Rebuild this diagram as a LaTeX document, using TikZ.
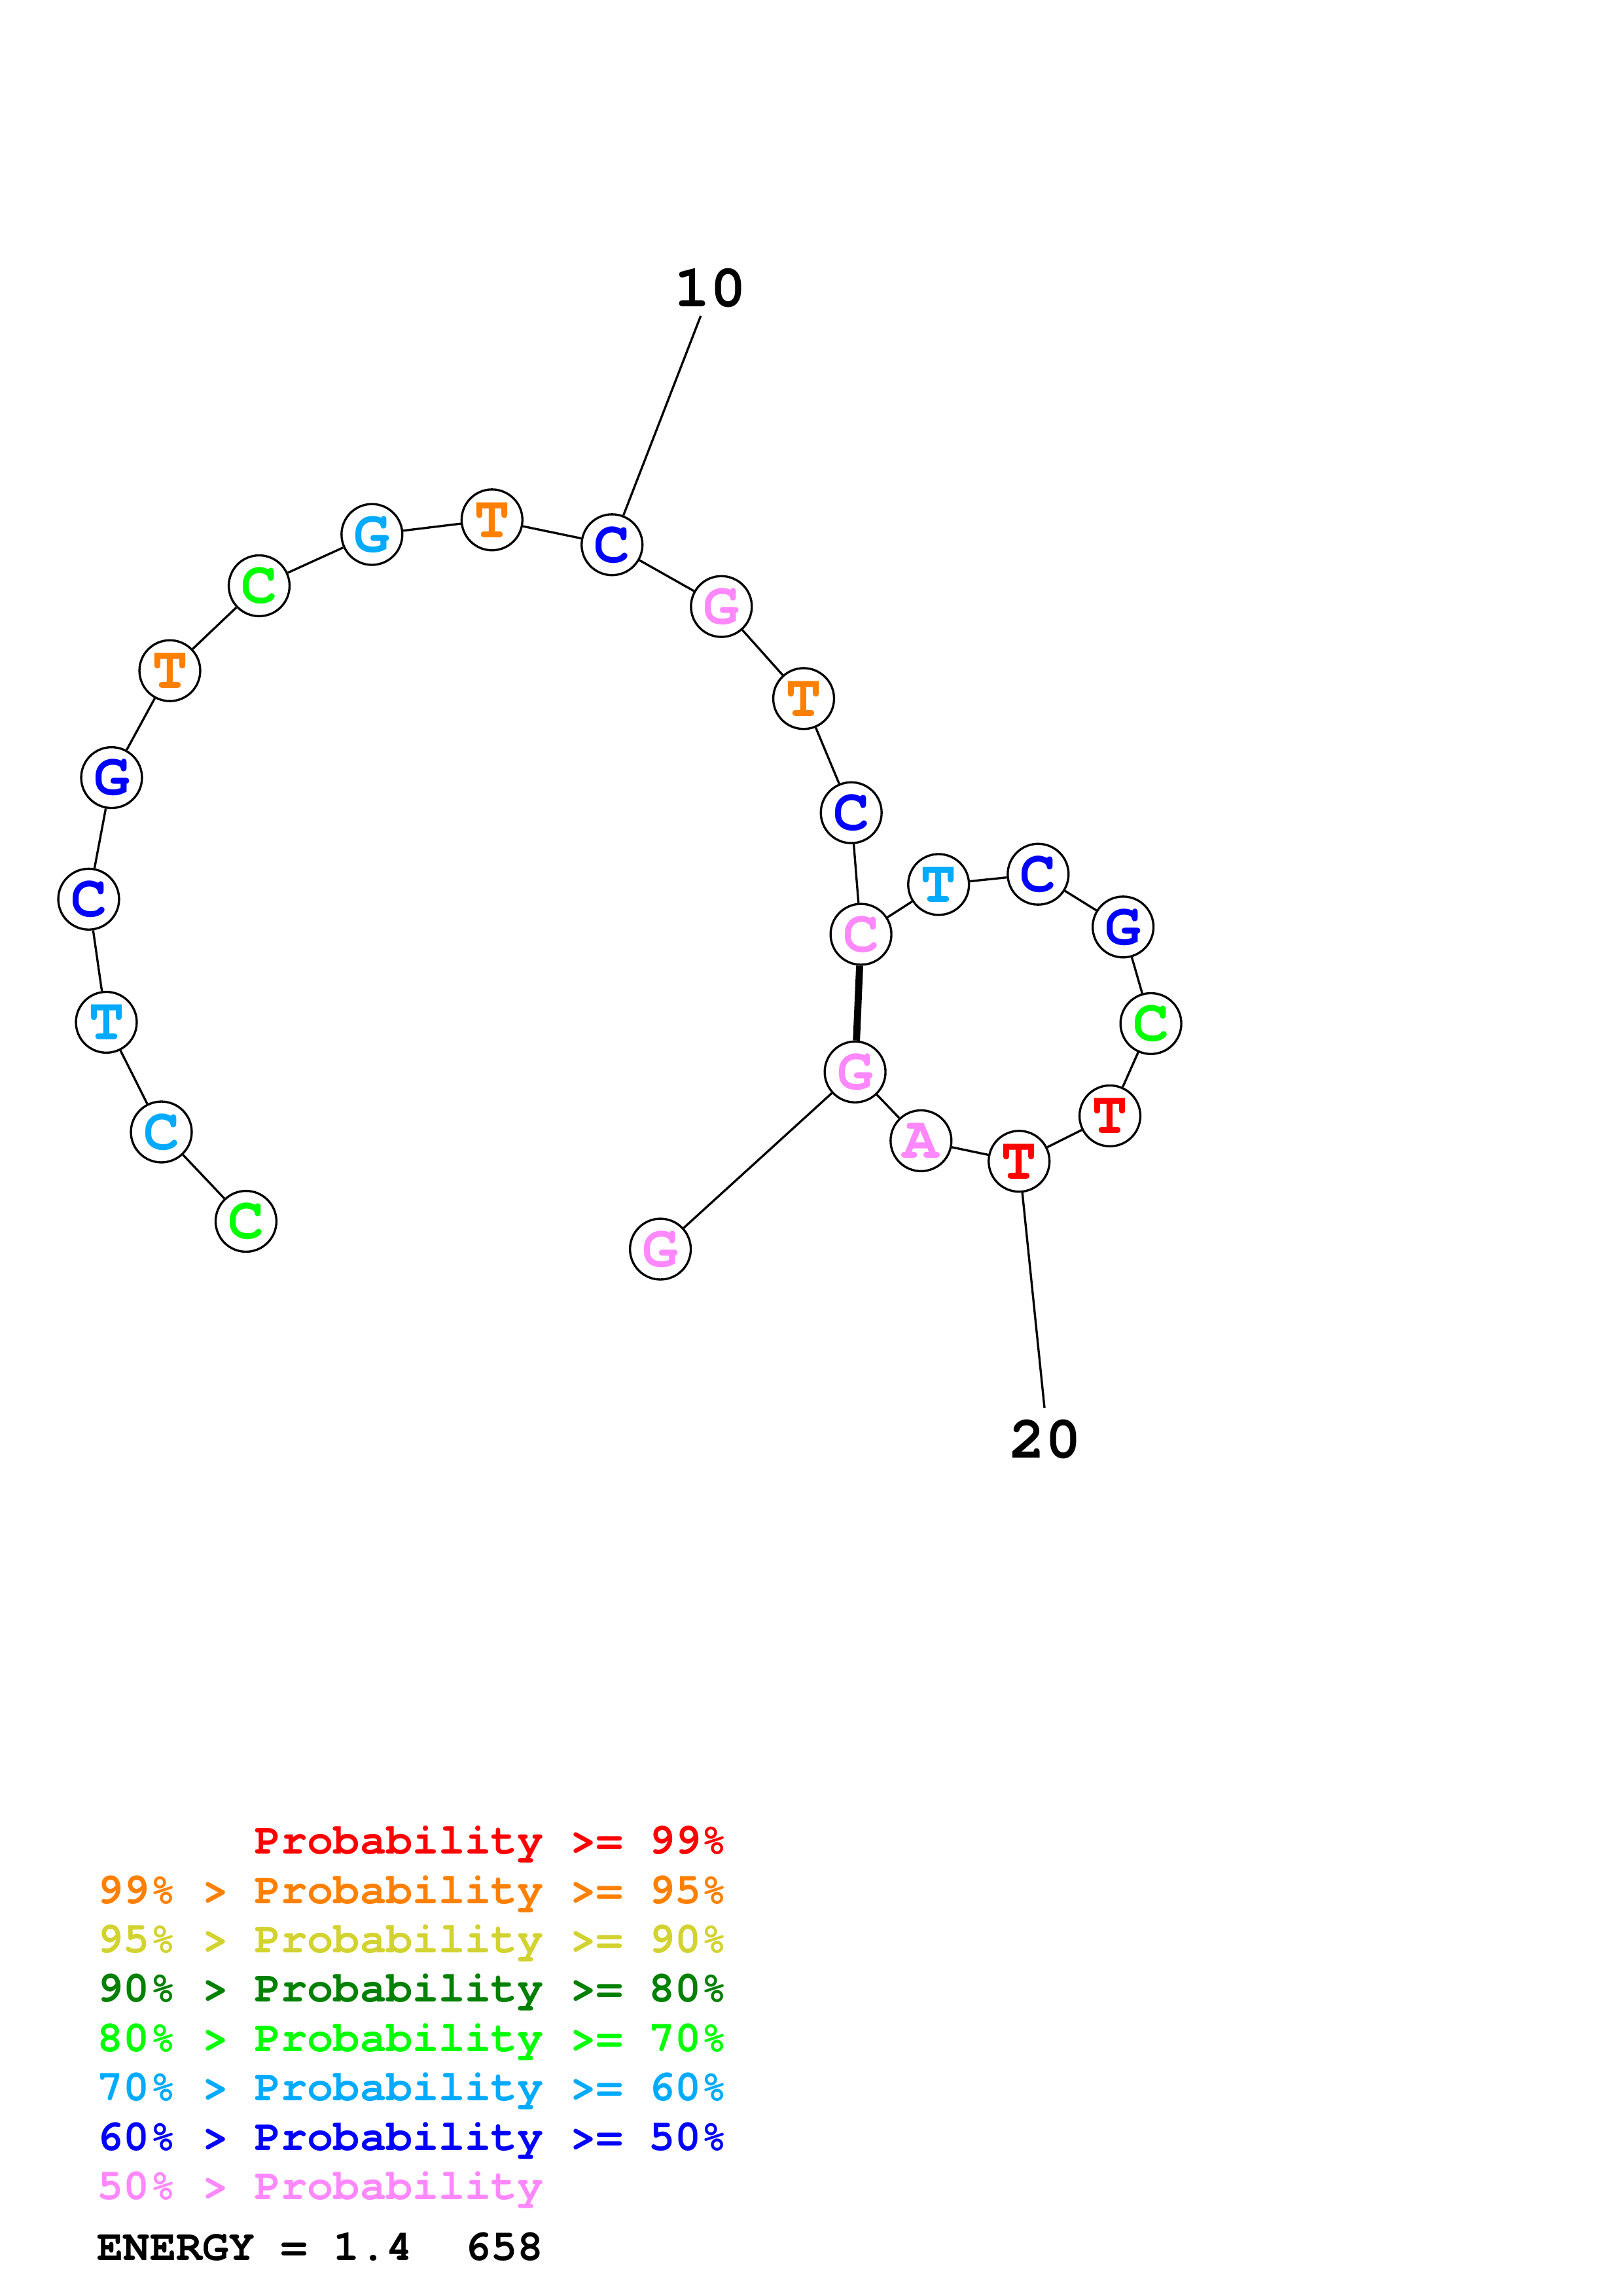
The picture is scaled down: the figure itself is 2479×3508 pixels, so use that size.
\documentclass[tikz,border=0pt]{standalone}
\usepackage{fontspec}
\newfontfamily\cur{TeX Gyre Cursor}
\usetikzlibrary{backgrounds}
\definecolor{cR}{RGB}{255,0,0}
\definecolor{cO}{RGB}{255,128,0}
\definecolor{cY}{RGB}{210,210,48}
\definecolor{cDG}{RGB}{0,128,0}
\definecolor{cG}{RGB}{0,255,0}
\definecolor{cLB}{RGB}{0,170,255}
\definecolor{cB}{RGB}{0,0,255}
\definecolor{cP}{RGB}{255,136,255}
\begin{document}
\begin{tikzpicture}[x=0.24pt,y=-0.24pt,
  nt/.style={circle,draw,line width=0.8pt,fill=white,minimum size=22.3pt,inner sep=0pt,
    font=\cur\bfseries\fontsize{22}{22}\selectfont},
  bond/.style={line width=0.8pt},
  pairbond/.style={line width=2.6pt},
  numlab/.style={inner sep=0pt,font=\cur\bfseries\fontsize{22}{22}\selectfont},
  leg/.style={anchor=base west,inner sep=0pt,font=\cur\bfseries\fontsize{16.05}{16}\selectfont}]
\path[use as bounding box] (0,0) rectangle (2479,3508);
% nucleotides
\node[nt,text=cG]  (n1)  at (375.9,1866.0) {C};
\node[nt,text=cLB] (n2)  at (246.5,1729.5) {C};
\node[nt,text=cLB] (n3)  at (162.5,1561.9) {T};
\node[nt,text=cB]  (n4)  at (135.5,1373.8) {C};
\node[nt,text=cB]  (n5)  at (170.5,1188.1) {G};
\node[nt,text=cO]  (n6)  at (259.5,1024.7) {T};
\node[nt,text=cG]  (n7)  at (396.0,895.0) {C};
\node[nt,text=cLB] (n8)  at (568.3,816.6) {G};
\node[nt,text=cO]  (n9)  at (751.8,794.3) {T};
\node[nt,text=cB]  (n10) at (935.2,832.3) {C};
\node[nt,text=cP]  (n11) at (1102.3,926.7) {G};
\node[nt,text=cO]  (n12) at (1228.0,1067.3) {T};
\node[nt,text=cB]  (n13) at (1300.7,1241.7) {C};
\node[nt,text=cP]  (n14) at (1315.6,1427.5) {C};
\node[nt,text=cLB] (n15) at (1434.2,1351.4) {T};
\node[nt,text=cB]  (n16) at (1586.3,1335.7) {C};
\node[nt,text=cB]  (n17) at (1716.1,1416.3) {G};
\node[nt,text=cG]  (n18) at (1758.6,1563.9) {C};
\node[nt,text=cR]  (n19) at (1696.0,1704.9) {T};
\node[nt,text=cR]  (n20) at (1557.2,1774.3) {T};
\node[nt,text=cP]  (n21) at (1407.3,1742.9) {A};
\node[nt,text=cP]  (n22) at (1306.6,1637.8) {G};
\node[nt,text=cP]  (n23) at (1009.1,1908.5) {G};
% number labels
\node[numlab] (t10) at (1085,440) {10};
\node[numlab] (t20) at (1597,2199) {20};
\coordinate (e10) at (1070.7,482.7);
\coordinate (e20) at (1596,2151);
\begin{scope}[on background layer]
\foreach \a/\b in {1/2,2/3,3/4,4/5,5/6,6/7,7/8,8/9,9/10,10/11,11/12,12/13,13/14,14/15,15/16,16/17,17/18,18/19,19/20,20/21,21/22,22/23}
  \draw[bond] (n\a) -- (n\b);
\draw[pairbond] (n14) -- (n22);
\draw[bond] (n10) -- (e10);
\draw[bond] (n20) -- (e20);
\end{scope}
% legend
\node[leg,text=cR]  (l1) at (148,2832.6) {\phantom{99\% > }Probability >= 99\%};
\node[leg,text=cO]  (l2) at (148,2908.0) {99\% > Probability >= 95\%};
\node[leg,text=cY]  (l3) at (148,2983.4) {95\% > Probability >= 90\%};
\node[leg,text=cDG] (l4) at (148,3058.8) {90\% > Probability >= 80\%};
\node[leg,text=cG]  (l5) at (148,3134.2) {80\% > Probability >= 70\%};
\node[leg,text=cLB] (l6) at (148,3209.6) {70\% > Probability >= 60\%};
\node[leg,text=cB]  (l7) at (148,3285.0) {60\% > Probability >= 50\%};
\node[leg,text=cP]  (l8) at (148,3360.4) {50\% > Probability};
\node[leg,text=black] (l9) at (148,3453.5) {ENERGY = 1.4\ \ 658};
\end{tikzpicture}
\end{document}
